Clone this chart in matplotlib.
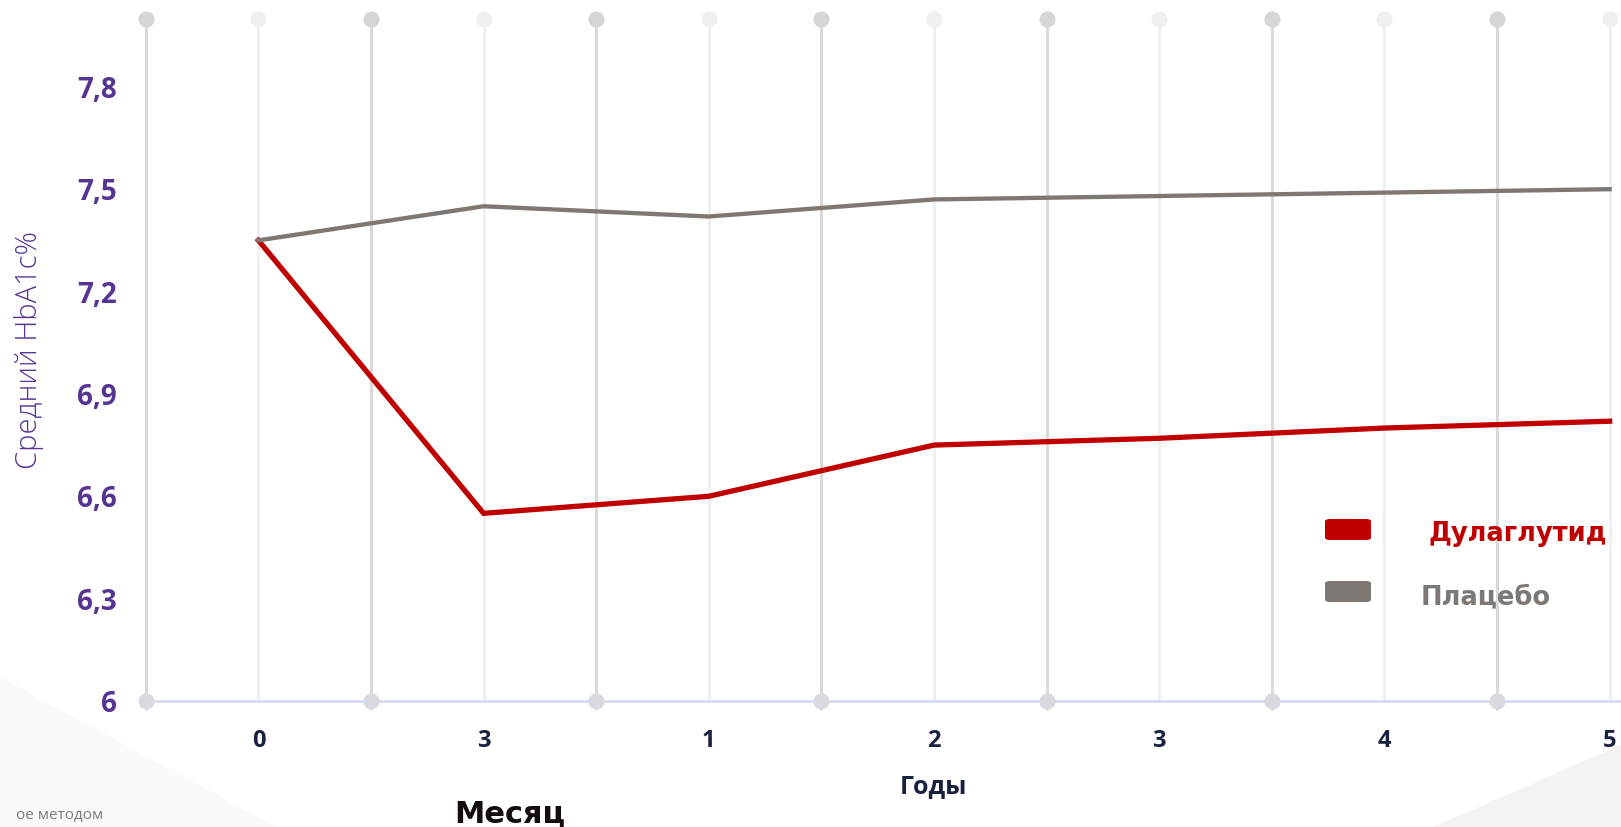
import numpy as np
import matplotlib
matplotlib.use('Agg')
import matplotlib.pyplot as plt
from matplotlib.patches import Polygon, FancyBboxPatch

# HbA1c over time, two arms
x_labels = ["0", "3", "1", "2", "3", "4", "5"]
dulaglutide = [7.35, 6.55, 6.60, 6.75, 6.77, 6.80, 6.82]
placebo = [7.35, 7.45, 7.42, 7.47, 7.48, 7.49, 7.50]
y_ticks = [6.0, 6.3, 6.6, 6.9, 7.2, 7.5, 7.8]
series_names = ["Дулаглутид", "Плацебо"]

RED = "#c00000"
GREY = "#7d7874"
PURPLE = "#563493"
NAVY = "#18213f"

W, H = 1621, 827
fig = plt.figure(figsize=(W / 100, H / 100), dpi=100)
fig.patch.set_facecolor("white")


def fx(px):
    return px / W


def fy(py):
    return 1 - py / H


# faint background wedges in the bottom corners
fig.patches.append(Polygon([(fx(0), fy(677)), (fx(277), fy(827)), (fx(0), fy(827))],
                           closed=True, transform=fig.transFigure,
                           facecolor="#fbfaf9", edgecolor="none", zorder=0))
fig.patches.append(Polygon([(fx(1433), fy(827)), (fx(1621), fy(745)), (fx(1621), fy(827))],
                           closed=True, transform=fig.transFigure,
                           facecolor="#f4f3ef", edgecolor="none", zorder=0))

ax = fig.add_axes([fx(145.8), fy(701), 1 - fx(145.8), fy(18.6) - fy(701)])
ax.set_facecolor("none")
n_grid = 2 * len(x_labels)
ax.set_xlim(0, (W - 145.8) / 112.6)
ax.set_ylim(6, 8)

# grid: alternating dark / light vertical rules with dots on top
grid_x = np.arange(n_grid)
dark = grid_x[grid_x % 2 == 0]
light = grid_x[grid_x % 2 == 1]
ax.vlines(dark, 5.975, 8, color="#dadada", lw=2.2, zorder=1, clip_on=False)
ax.vlines(light, 6, 8, color="#f0f0f0", lw=2.2, zorder=1, clip_on=False)
ax.axhline(6, color="#d2daf1", lw=1.8, zorder=2, clip_on=False)
ax.scatter(dark, np.full(len(dark), 8.0), s=135, color="#d6d6d6", zorder=3, clip_on=False, linewidths=0)
ax.scatter(light, np.full(len(light), 8.0), s=135, color="#f0f0f0", zorder=3, clip_on=False, linewidths=0)
ax.scatter(dark, np.full(len(dark), 6.0), s=135, color="#d8dadf", zorder=3, clip_on=False, linewidths=0)

x_pos = light
ax.plot(x_pos, dulaglutide, color=RED, lw=3.8, zorder=4, solid_joinstyle="miter", clip_on=False)
ax.plot(x_pos, placebo, color=GREY, lw=3.1, zorder=5, solid_joinstyle="miter", clip_on=False)

for s in ax.spines.values():
    s.set_visible(False)

ax.set_xticks(x_pos)
ax.set_xticklabels(x_labels, fontsize=17, fontweight="bold", color=NAVY, family="Open Sans")
ax.set_yticks(y_ticks)
ax.set_yticklabels([("%g" % v).replace(".", ",") for v in y_ticks],
                   fontsize=20, fontweight="bold", color=PURPLE, family="Open Sans")
ax.tick_params(axis="x", length=0, pad=20)
ax.tick_params(axis="y", length=0, pad=21)

fig.text(fx(29), fy(350), "Средний HbA1c%", rotation=90, ha="center", va="center",
         fontsize=21, fontweight="light", color=PURPLE, family="Open Sans")
fig.text(fx(933), fy(787), "Годы", ha="center", va="center",
         fontsize=18, fontweight="bold", color=NAVY, family="Open Sans")
fig.text(fx(510), fy(814), "Месяц", ha="center", va="center",
         fontsize=22, fontweight="bold", color="#140c10", family="DejaVu Sans")
fig.text(fx(103), fy(815), "ое методом", ha="right", va="center",
         fontsize=11, color="#7a7a7a", family="Open Sans")

# legend swatches
for (y0, col) in [(519, RED), (581, GREY)]:
    fig.patches.append(FancyBboxPatch((fx(1325), fy(y0 + 21)), fx(46), fy(0) - fy(21),
                                      boxstyle="round,pad=0,rounding_size=0.003",
                                      transform=fig.transFigure, facecolor=col,
                                      edgecolor="none", zorder=6))
fig.text(fx(1428), fy(534), series_names[0], ha="left", va="center",
         fontsize=18.5, fontweight="bold", color=RED, family="DejaVu Sans")
fig.text(fx(1421), fy(597), series_names[1], ha="left", va="center",
         fontsize=18.5, fontweight="bold", color=GREY, family="DejaVu Sans")

fig.savefig("out.png", dpi=100)
